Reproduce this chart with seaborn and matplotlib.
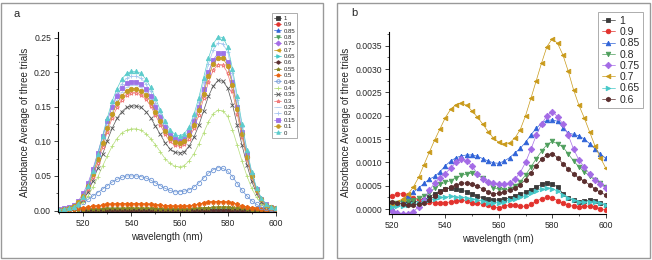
import numpy as np
import pandas as pd
import matplotlib.pyplot as plt
import seaborn as sns
from matplotlib.patches import Rectangle
from matplotlib.ticker import MultipleLocator, FormatStrFormatter

sns.set_style("ticks")
plt.rcParams['font.family'] = ['Liberation Sans', 'DejaVu Sans']

# %% dados
wl_a = list(range(510, 601, 2))
wl_b = list(range(520, 601, 2))

# painel b - frações altas (absorbância muito baixa)
abs_1 = [.00010, .00011, .00012, .00013, .00015, .00017, .00020, .00026, .00033, .00039, .00043,
         .00045, .00044, .00041, .00037, .00033, .00028, .00024, .00021, .00020, .00019, .00021,
         .00024, .00028, .00032, .00036, .00041, .00047, .00053, .00056, .00054, .00047, .00033,
         .00024, .00019, .00016, .00017, .00019, .00017, .00013, .00009]
abs_09 = [.00028, .00032, .00033, .00030, .00024, .00020, .00017, .00015, .00013, .00013, .00014,
          .00015, .00018, .00020, .00017, .00013, .00012, .00011, .00009, .00005, .00002, .00006,
          .00009, .00008, .00006, .00006, .00010, .00017, .00022, .00025, .00024, .00018, .00012,
          .00008, .00006, .00005, .00006, .00006, .00004, .00001, -.00003]
abs_085 = [.00003, .00012, .00020, .00028, .00036, .00045, .00055, .00064, .00070, .00080, .00093,
           .00103, .00110, .00114, .00116, .00116, .00113, .00108, .00103, .00099, .00098, .00103,
           .00110, .00120, .00130, .00143, .00159, .00173, .00184, .00190, .00191, .00188, .00174,
           .00163, .00160, .00157, .00150, .00140, .00129, .00118, .00109]
abs_08 = [.00012, .00014, .00016, .00018, .00020, .00023, .00027, .00035, .00045, .00053, .00057,
          .00061, .00067, .00072, .00075, .00077, .00073, .00066, .00056, .00046, .00042, .00041,
          .00043, .00049, .00058, .00073, .00090, .00108, .00124, .00138, .00145, .00140, .00133,
          .00118, .00103, .00090, .00080, .00071, .00062, .00055, .00048]
abs_075 = [-.00005, -.00008, -.00010, -.00010, -.00006, .00005, .00020, .00040, .00056, .00067, .00076,
           .00088, .00100, .00107, .00103, .00092, .00076, .00064, .00058, .00055, .00053, .00053,
           .00056, .00064, .00078, .00100, .00128, .00158, .00182, .00200, .00209, .00198, .00182,
           .00158, .00128, .00105, .00090, .00075, .00063, .00053, .00045]
abs_07 = [.00010, .00015, .00022, .00032, .00047, .00068, .00095, .00122, .00148, .00172, .00196,
          .00214, .00224, .00227, .00222, .00210, .00197, .00182, .00166, .00152, .00143, .00140,
          .00142, .00152, .00170, .00200, .00237, .00275, .00313, .00348, .00365, .00355, .00330,
          .00295, .00255, .00222, .00195, .00165, .00135, .00110, .00088]
abs_065 = [.00005, .00006, .00007, .00008, .00010, .00012, .00015, .00019, .00022, .00025, .00026,
           .00027, .00026, .00025, .00024, .00022, .00020, .00017, .00014, .00013, .00014, .00016,
           .00019, .00022, .00025, .00029, .00034, .00039, .00044, .00046, .00044, .00038, .00030,
           .00024, .00019, .00016, .00015, .00016, .00015, .00012, .00009]
abs_06 = [.00015, .00013, .00010, .00009, .00009, .00010, .00013, .00020, .00028, .00036, .00042,
          .00047, .00052, .00055, .00056, .00054, .00049, .00043, .00037, .00033, .00034, .00037,
          .00040, .00045, .00052, .00063, .00078, .00093, .00107, .00116, .00119, .00110, .00097,
          .00086, .00075, .00066, .00060, .00052, .00043, .00036, .00030]

# painel a - frações restantes
abs_055 = [.000, .000, .000, .001, .001, .001, .002, .002, .002, .002, .003, .003, .003, .003, .003, .003,
           .003, .003, .003, .003, .002, .002, .002, .002, .002, .002, .002, .002, .003, .003, .004, .004,
           .005, .005, .005, .005, .004, .003, .003, .002, .001, .001, .001, .000, .000, .000]
abs_05 = [.000, .001, .001, .002, .003, .004, .005, .006, .007, .008, .009, .009, .010, .010, .010, .010,
          .010, .010, .009, .009, .008, .008, .007, .007, .006, .006, .006, .007, .008, .009, .011, .012,
          .013, .013, .013, .012, .011, .009, .007, .005, .004, .003, .002, .001, .001, .000]
abs_045 = [.001, .002, .003, .005, .008, .012, .016, .021, .026, .031, .036, .041, .045, .048, .050, .050,
           .050, .049, .047, .044, .040, .036, .032, .029, .027, .027, .028, .030, .034, .040, .047, .054,
           .059, .062, .061, .057, .049, .039, .029, .021, .014, .009, .005, .003, .002, .001]
abs_04 = [.001, .001, .002, .003, .006, .012, .021, .034, .048, .064, .079, .093, .104, .112, .116, .118,
          .118, .116, .111, .104, .095, .085, .075, .068, .064, .063, .065, .072, .082, .096, .112, .128,
          .140, .145, .144, .136, .117, .094, .071, .050, .032, .019, .010, .005, .003, .002]
abs_035 = [.001, .002, .003, .004, .008, .015, .027, .043, .061, .081, .101, .119, .133, .143, .149, .151,
           .151, .149, .143, .134, .122, .110, .098, .089, .084, .083, .085, .093, .106, .123, .144, .165,
           .180, .188, .187, .177, .153, .123, .094, .066, .042, .025, .013, .007, .004, .002]
abs_03 = [.001, .002, .003, .005, .009, .017, .031, .049, .069, .092, .114, .134, .149, .160, .167, .170,
          .170, .167, .161, .151, .138, .124, .110, .100, .094, .093, .096, .104, .119, .138, .162, .185,
          .203, .211, .210, .199, .172, .139, .106, .074, .048, .028, .015, .008, .004, .002]
abs_025 = [.001, .002, .004, .007, .012, .022, .036, .055, .076, .100, .123, .143, .159, .171, .178, .181,
           .181, .178, .171, .161, .147, .132, .118, .107, .101, .099, .102, .111, .127, .148, .173, .198,
           .216, .225, .224, .213, .184, .148, .112, .079, .051, .030, .016, .008, .005, .003]
abs_02 = [.001, .002, .003, .005, .010, .019, .035, .055, .078, .104, .129, .152, .170, .183, .191, .194,
          .194, .191, .183, .172, .156, .140, .124, .113, .106, .104, .107, .117, .134, .157, .185, .212,
          .232, .242, .241, .229, .198, .159, .121, .085, .054, .032, .017, .009, .005, .003]
abs_015 = [.002, .003, .005, .008, .014, .025, .040, .060, .083, .107, .130, .150, .166, .177, .184, .186,
           .186, .183, .176, .165, .150, .135, .120, .109, .103, .101, .104, .113, .129, .150, .175, .200,
           .218, .227, .227, .215, .186, .150, .114, .081, .052, .031, .017, .009, .005, .003]
abs_01 = [.001, .002, .004, .007, .012, .021, .035, .053, .074, .097, .119, .139, .155, .166, .173, .176,
          .176, .173, .167, .157, .143, .129, .115, .105, .099, .097, .100, .109, .124, .145, .169, .194,
          .212, .221, .220, .209, .181, .146, .111, .078, .050, .030, .016, .008, .005, .003]
abs_0 = [.001, .002, .003, .005, .010, .020, .036, .057, .081, .108, .134, .158, .176, .190, .198, .201,
         .201, .198, .190, .178, .162, .145, .129, .117, .110, .108, .111, .121, .139, .163, .192, .220,
         .241, .251, .250, .237, .205, .165, .125, .088, .056, .033, .018, .009, .005, .003]

labels_b = ['1', '0.9', '0.85', '0.8', '0.75', '0.7', '0.65', '0.6']
series_b = [abs_1, abs_09, abs_085, abs_08, abs_075, abs_07, abs_065, abs_06]
labels_a = labels_b + ['0.55', '0.5', '0.45', '0.4', '0.35', '0.3', '0.25', '0.2', '0.15', '0.1', '0']
series_a = series_b + [abs_055, abs_05, abs_045, abs_04, abs_035, abs_03, abs_025, abs_02,
                       abs_015, abs_01, abs_0]

# estilo tipo Origin: (cor, marcador, preenchido?)
estilos = [
    ('#3a3a3a', 's', True), ('#e2322d', 'o', True), ('#2f63d8', '^', True), ('#4e9e5c', 'v', True),
    ('#a46be6', 'D', True), ('#c99a1a', '<', True), ('#44c8c8', '>', True), ('#5b2f2f', 'h', True),
    ('#858522', '*', True), ('#e8620f', 'p', True), ('#6f97d6', 'o', False), ('#b6de7a', '+', True),
    ('#555555', 'x', True), ('#f07575', '*', False), ('#b3cff0', '_', True), ('#a6c6f0', '+', True),
    ('#9d72e8', 's', True), ('#c49a22', 'o', True), ('#5ccccc', '^', True),
]


def desenha(ax, labels, series, ms):
    for lab, ys, (cor, mk, cheio) in zip(labels, series, estilos):
        xs = wl_a if len(ys) == len(wl_a) else wl_b
        df = pd.DataFrame({'wl': xs, 'abs': ys})
        sns.lineplot(data=df, x='wl', y='abs', ax=ax, color=cor, marker=mk, markersize=ms,
                     markerfacecolor=cor if cheio else 'none', markeredgecolor=cor,
                     markeredgewidth=0.6, linewidth=0.5, label=lab)


def eixos(ax):
    sns.despine(ax=ax)
    for s in ['left', 'bottom']:
        ax.spines[s].set_linewidth(0.8)
        ax.spines[s].set_color('black')
    ax.xaxis.set_major_locator(MultipleLocator(20))
    ax.xaxis.set_minor_locator(MultipleLocator(10))
    ax.tick_params(which='major', direction='out', length=3, width=0.6, labelsize=6.2, pad=2)
    ax.tick_params(which='minor', direction='out', length=1.5, width=0.5)
    ax.set_xlabel('wavelength (nm)', fontsize=7, labelpad=3)
    ax.set_ylabel('Absorbance Average of three trials', fontsize=7, labelpad=3)


fig = plt.figure(figsize=(6.52, 2.6), dpi=100)

# painel a
ax1 = fig.add_axes([0.089, 0.185, 0.334, 0.692])
desenha(ax1, labels_a, series_a, 3.2)
ax1.set_xlim(509.5, 600)
ax1.set_ylim(-0.002, 0.258)
ax1.yaxis.set_major_locator(MultipleLocator(0.05))
ax1.yaxis.set_minor_locator(MultipleLocator(0.025))
ax1.yaxis.set_major_formatter(FormatStrFormatter('%.2f'))
eixos(ax1)
h, l = ax1.get_legend_handles_labels()
ax1.legend(h, l, loc='upper left', bbox_to_anchor=(0.4167, 0.949), bbox_transform=fig.transFigure,
           borderaxespad=0, fontsize=4.3, labelspacing=0.2, handlelength=1.2, handletextpad=0.35,
           borderpad=0.4, frameon=True, fancybox=False, edgecolor='#888888', markerscale=0.8)
ax1.get_legend().get_frame().set_linewidth(0.6)

# painel b
ax2 = fig.add_axes([0.597, 0.178, 0.332, 0.70])
desenha(ax2, labels_b, series_b, 3.3)
ax2.set_xlim(519, 600)
ax2.set_ylim(-0.0001, 0.0038)
ax2.yaxis.set_major_locator(MultipleLocator(0.0005))
ax2.yaxis.set_minor_locator(MultipleLocator(0.00025))
ax2.yaxis.set_major_formatter(FormatStrFormatter('%.4f'))
eixos(ax2)
h, l = ax2.get_legend_handles_labels()
ax2.legend(h, l, loc='upper left', bbox_to_anchor=(0.9172, 0.953), bbox_transform=fig.transFigure,
           borderaxespad=0, fontsize=7.5, labelspacing=0.12, handlelength=1.25, handletextpad=0.45,
           borderpad=0.35, frameon=True, fancybox=False, edgecolor='#888888')
ax2.get_legend().get_frame().set_linewidth(0.6)

# molduras cinzas e letras dos painéis
fig.patches.append(Rectangle((0.0015, 0.008), 0.494, 0.981, transform=fig.transFigure,
                             fill=False, edgecolor='#999999', linewidth=1))
fig.patches.append(Rectangle((0.5176, 0.008), 0.479, 0.981, transform=fig.transFigure,
                             fill=False, edgecolor='#999999', linewidth=1))
fig.text(0.026, 0.948, 'a', fontsize=8, ha='center', va='center')
fig.text(0.544, 0.950, 'b', fontsize=8, ha='center', va='center')

plt.savefig('out.png', dpi=100)
